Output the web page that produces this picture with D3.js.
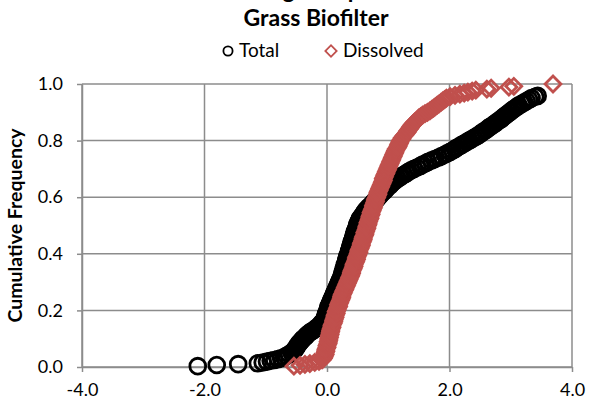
<!DOCTYPE html>
<html>
<head>
<meta charset="utf-8">
<script src="https://cdn.jsdelivr.net/npm/d3@7"></script>
<style>
  body { margin: 0; background: #fff; }
  svg { display: block; font-family: Lato, "Open Sans", sans-serif; }
</style>
</head>
<body>
<div class="chart"></div>
<script>
// chart texts
var titleLines = ["Zinc Log Comparison", "Grass Biofilter"];
var seriesNames = ["Total", "Dissolved"];
var xTicks = [-4, -2, 0, 2, 4];
var yTicks = [0, 0.2, 0.4, 0.6, 0.8, 1.0];
var yLabel = "Cumulative Frequency";

// [value, cumulative frequency]
var totalData = [
  [-2.11,0.003],[-1.80,0.007],[-1.45,0.010],[-1.13,0.013],[-1.05,0.016],[-0.98,0.019],
  [-0.92,0.022],[-0.86,0.025],[-0.80,0.028],[-0.75,0.031],[-0.70,0.034],
  [-0.66,0.040],[-0.62,0.045],[-0.58,0.050],[-0.55,0.055],[-0.53,0.060],[-0.51,0.065],
  [-0.50,0.070],[-0.48,0.075],[-0.47,0.080],[-0.45,0.085],[-0.43,0.090],[-0.41,0.095],
  [-0.39,0.100],[-0.36,0.105],[-0.34,0.110],[-0.32,0.115],[-0.29,0.120],[-0.26,0.125],
  [-0.22,0.130],[-0.19,0.135],[-0.16,0.140],[-0.13,0.145],[-0.11,0.150],[-0.09,0.155],
  [-0.07,0.160],[-0.05,0.165],[-0.04,0.170],[-0.03,0.175],[-0.02,0.180],[-0.02,0.185],
  [-0.01,0.190],[0.00,0.195],[0.01,0.200],[0.02,0.205],[0.02,0.210],[0.03,0.215],
  [0.04,0.220],[0.05,0.225],[0.06,0.230],[0.07,0.235],[0.08,0.240],[0.09,0.245],
  [0.10,0.250],[0.11,0.255],[0.12,0.260],[0.13,0.265],[0.14,0.270],[0.15,0.275],
  [0.16,0.280],[0.17,0.285],[0.18,0.290],[0.19,0.295],[0.20,0.300],[0.21,0.305],
  [0.22,0.310],[0.23,0.315],[0.24,0.320],[0.25,0.325],[0.25,0.330],[0.26,0.335],
  [0.27,0.340],[0.27,0.345],[0.28,0.350],[0.29,0.355],[0.29,0.360],[0.30,0.365],
  [0.31,0.370],[0.31,0.375],[0.32,0.380],[0.33,0.385],[0.33,0.390],[0.34,0.395],
  [0.35,0.400],[0.36,0.405],[0.36,0.410],[0.37,0.415],[0.38,0.420],[0.38,0.425],
  [0.39,0.430],[0.40,0.435],[0.40,0.440],[0.41,0.445],[0.42,0.450],[0.43,0.455],
  [0.43,0.460],[0.44,0.465],[0.45,0.470],[0.45,0.475],[0.46,0.480],[0.47,0.485],
  [0.48,0.490],[0.49,0.495],[0.49,0.500],[0.50,0.505],[0.51,0.510],[0.52,0.515],
  [0.53,0.520],[0.54,0.525],[0.56,0.530],[0.58,0.535],[0.59,0.540],[0.61,0.545],
  [0.62,0.550],[0.64,0.555],[0.66,0.560],[0.68,0.565],[0.71,0.570],[0.73,0.575],
  [0.75,0.580],[0.77,0.585],[0.80,0.590],[0.82,0.595],[0.84,0.600],[0.86,0.605],
  [0.88,0.610],[0.90,0.615],[0.93,0.620],[0.95,0.625],[0.97,0.630],[0.99,0.635],
  [1.02,0.640],[1.04,0.645],[1.06,0.650],[1.09,0.655],[1.12,0.660],[1.15,0.665],
  [1.19,0.670],[1.22,0.675],[1.26,0.680],[1.30,0.685],[1.33,0.690],[1.37,0.695],
  [1.42,0.700],[1.47,0.705],[1.52,0.710],[1.56,0.715],[1.61,0.720],[1.65,0.725],
  [1.71,0.730],[1.76,0.735],[1.82,0.740],[1.87,0.745],[1.92,0.750],[1.96,0.755],
  [2.01,0.760],[2.05,0.765],[2.09,0.770],[2.12,0.775],[2.16,0.780],[2.20,0.785],
  [2.24,0.790],[2.28,0.795],[2.32,0.800],[2.36,0.805],[2.40,0.810],[2.44,0.815],
  [2.48,0.820],[2.51,0.825],[2.54,0.830],[2.58,0.835],[2.61,0.840],[2.64,0.845],
  [2.67,0.850],[2.71,0.855],[2.74,0.860],[2.77,0.865],[2.80,0.870],[2.84,0.875],
  [2.86,0.880],[2.89,0.885],[2.92,0.890],[2.95,0.895],[2.98,0.900],[3.01,0.905],
  [3.04,0.910],[3.07,0.915],[3.11,0.920],[3.13,0.925],[3.18,0.930],[3.22,0.935],
  [3.26,0.940],[3.30,0.945],[3.34,0.950],[3.40,0.955],[3.44,0.958]
];

var dissolvedData = [
  [-0.54,0.003],[-0.44,0.006],[-0.36,0.009],[-0.28,0.012],[-0.20,0.016],[-0.13,0.020],
  [-0.08,0.025],[-0.06,0.030],[-0.05,0.035],[-0.04,0.040],[-0.03,0.045],[-0.03,0.050],
  [-0.02,0.055],[-0.02,0.060],[-0.01,0.065],[0.00,0.070],[0.00,0.075],[0.01,0.080],
  [0.02,0.085],[0.02,0.090],[0.03,0.095],[0.03,0.100],[0.04,0.105],[0.04,0.110],
  [0.05,0.115],[0.05,0.120],[0.06,0.125],[0.06,0.130],[0.07,0.135],[0.08,0.140],
  [0.08,0.145],[0.09,0.150],[0.10,0.155],[0.11,0.160],[0.11,0.165],[0.12,0.170],
  [0.13,0.175],[0.13,0.180],[0.14,0.185],[0.15,0.190],[0.15,0.195],[0.16,0.200],
  [0.17,0.205],[0.18,0.210],[0.19,0.215],[0.19,0.220],[0.20,0.225],[0.21,0.230],
  [0.22,0.235],[0.23,0.240],[0.24,0.245],[0.24,0.250],[0.25,0.255],[0.26,0.260],
  [0.27,0.265],[0.28,0.270],[0.29,0.275],[0.30,0.280],[0.31,0.285],[0.32,0.290],
  [0.33,0.295],[0.34,0.300],[0.35,0.305],[0.36,0.310],[0.37,0.315],[0.38,0.320],
  [0.39,0.325],[0.40,0.330],[0.40,0.335],[0.41,0.340],[0.42,0.345],[0.43,0.350],
  [0.44,0.355],[0.44,0.360],[0.45,0.365],[0.46,0.370],[0.47,0.375],[0.48,0.380],
  [0.48,0.385],[0.49,0.390],[0.50,0.395],[0.51,0.400],[0.52,0.405],[0.52,0.410],
  [0.53,0.415],[0.54,0.420],[0.55,0.425],[0.56,0.430],[0.56,0.435],[0.57,0.440],
  [0.58,0.445],[0.59,0.450],[0.59,0.455],[0.60,0.460],[0.61,0.465],[0.62,0.470],
  [0.62,0.475],[0.63,0.480],[0.64,0.485],[0.65,0.490],[0.65,0.495],[0.66,0.500],
  [0.67,0.505],[0.67,0.510],[0.68,0.515],[0.69,0.520],[0.70,0.525],[0.70,0.530],
  [0.71,0.535],[0.72,0.540],[0.72,0.545],[0.73,0.550],[0.74,0.555],[0.75,0.560],
  [0.76,0.565],[0.76,0.570],[0.77,0.575],[0.78,0.580],[0.79,0.585],[0.79,0.590],
  [0.80,0.595],[0.81,0.600],[0.82,0.605],[0.83,0.610],[0.83,0.615],[0.84,0.620],
  [0.85,0.625],[0.86,0.630],[0.87,0.635],[0.88,0.640],[0.89,0.645],[0.90,0.650],
  [0.91,0.655],[0.92,0.660],[0.92,0.665],[0.93,0.670],[0.94,0.675],[0.95,0.680],
  [0.96,0.685],[0.97,0.690],[0.98,0.695],[0.99,0.700],[1.00,0.705],[1.01,0.710],
  [1.02,0.715],[1.03,0.720],[1.04,0.725],[1.05,0.730],[1.06,0.735],[1.07,0.740],
  [1.08,0.745],[1.09,0.750],[1.10,0.755],[1.11,0.760],[1.12,0.765],[1.13,0.770],
  [1.15,0.775],[1.16,0.780],[1.17,0.785],[1.18,0.790],[1.19,0.795],[1.20,0.800],
  [1.22,0.805],[1.23,0.810],[1.25,0.815],[1.27,0.820],[1.29,0.825],[1.31,0.830],
  [1.32,0.835],[1.34,0.840],[1.36,0.845],[1.37,0.850],[1.39,0.855],[1.41,0.860],
  [1.43,0.865],[1.46,0.870],[1.48,0.875],[1.50,0.880],[1.53,0.885],[1.56,0.890],
  [1.60,0.895],[1.64,0.900],[1.68,0.905],[1.71,0.910],[1.74,0.915],[1.77,0.920],
  [1.80,0.925],[1.83,0.930],[1.86,0.935],[1.89,0.940],[1.92,0.945],[1.95,0.950],
  [2.01,0.955],[2.09,0.960],[2.17,0.964],[2.24,0.968],[2.30,0.971],[2.37,0.975],
  [2.43,0.978],[2.61,0.982],[2.68,0.985],[2.97,0.989],[3.05,0.992],[3.69,1.000]
];

var width = 589, height = 408;
var plot = {left: 82, right: 572, top: 84, bottom: 367};
var gridColor = "#8c8c8c";
var red = "#c0504d";

var svg = d3.select(".chart").append("svg")
    .attr("width", width)
    .attr("height", height);

var x = d3.scaleLinear().domain([-4, 4]).range([plot.left, plot.right]);
var y = d3.scaleLinear().domain([0, 1]).range([plot.bottom, plot.top]);

// gridlines
svg.append("g").selectAll("line.vg")
    .data(xTicks).enter().append("line")
      .attr("x1", function(d) { return x(d); })
      .attr("x2", function(d) { return x(d); })
      .attr("y1", plot.top).attr("y2", plot.bottom)
      .attr("stroke", gridColor).attr("stroke-width", 1.5);
svg.append("g").selectAll("line.hg")
    .data(yTicks).enter().append("line")
      .attr("x1", plot.left).attr("x2", plot.right)
      .attr("y1", function(d) { return y(d); })
      .attr("y2", function(d) { return y(d); })
      .attr("stroke", gridColor).attr("stroke-width", 1.5);

// axes
var xAxis = svg.append("g")
    .attr("transform", "translate(0," + plot.bottom + ")")
    .call(d3.axisBottom(x).tickValues(xTicks).tickFormat(d3.format(".1f"))
          .tickSize(5).tickPadding(11).tickSizeOuter(0));
var yAxis = svg.append("g")
    .attr("transform", "translate(" + plot.left + ",0)")
    .call(d3.axisLeft(y).tickValues(yTicks).tickFormat(d3.format(".1f"))
          .tickSize(5).tickPadding(14).tickSizeOuter(0));

[xAxis, yAxis].forEach(function(g) {
  g.selectAll("path, line").attr("stroke", gridColor).attr("stroke-width", 1.5);
  g.selectAll("text").attr("fill", "#000")
    .style("font-family", "Lato, sans-serif").style("font-size", "18px");
});
// d3 uses a minus sign, the original shows a hyphen
xAxis.selectAll("text").text(function(d) { return d3.format(".1f")(d).replace("\u2212", "-"); });

// series: total first, dissolved drawn over it
svg.append("g").selectAll("circle")
    .data(totalData).enter().append("circle")
      .attr("cx", function(d) { return x(d[0]); })
      .attr("cy", function(d) { return y(d[1]); })
      .attr("r", 7.9)
      .attr("fill", "none")
      .attr("stroke", "#000")
      .attr("stroke-width", 2.8);

var diamond = d3.symbol().type(d3.symbolSquare).size(125);
svg.append("g").selectAll("path")
    .data(dissolvedData).enter().append("path")
      .attr("d", diamond)
      .attr("transform", function(d) {
        return "translate(" + x(d[0]) + "," + y(d[1]) + ") rotate(45)";
      })
      .attr("fill", "none")
      .attr("stroke", red)
      .attr("stroke-width", 2.8);

// title (first line is cut by the top edge, as in the original)
svg.append("text")
    .attr("x", 316).attr("y", -2)
    .attr("text-anchor", "middle")
    .style("font-size", "23px").style("font-weight", "bold")
    .text(titleLines[0]);
svg.append("text")
    .attr("x", 316).attr("y", 26)
    .attr("text-anchor", "middle")
    .style("font-size", "23px").style("font-weight", "bold")
    .text(titleLines[1]);

// legend
var legend = svg.append("g");
legend.append("circle")
    .attr("cx", 228).attr("cy", 51).attr("r", 4.6)
    .attr("fill", "none").attr("stroke", "#000").attr("stroke-width", 1.8);
legend.append("text")
    .attr("x", 239).attr("y", 57)
    .style("font-size", "19px")
    .text(seriesNames[0]);
legend.append("path")
    .attr("d", d3.symbol().type(d3.symbolSquare).size(64))
    .attr("transform", "translate(331,51) rotate(45)")
    .attr("fill", "none").attr("stroke", red).attr("stroke-width", 1.8);
legend.append("text")
    .attr("x", 343).attr("y", 57)
    .style("font-size", "19px")
    .text(seriesNames[1]);

// y axis title
svg.append("text")
    .attr("transform", "translate(22," + ((plot.top + plot.bottom) / 2) + ") rotate(-90)")
    .attr("text-anchor", "middle")
    .style("font-size", "19.5px").style("font-weight", "bold")
    .text(yLabel);
</script>
</body>
</html>
